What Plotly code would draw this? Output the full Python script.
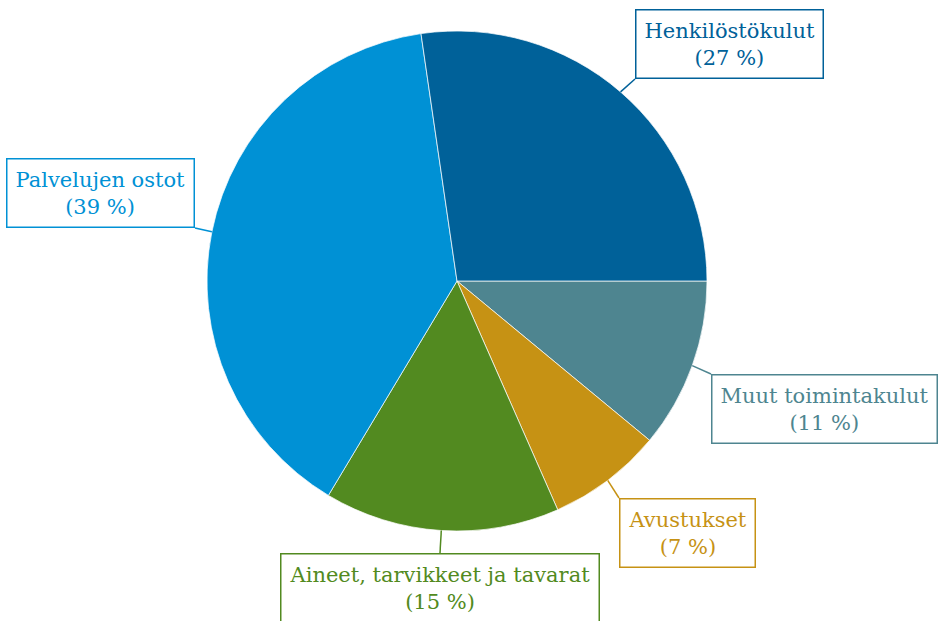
import math
import plotly.graph_objects as go

# Data (clockwise from 3 o'clock)
labels = ["Muut toimintakulut", "Avustukset", "Aineet, tarvikkeet ja tavarat",
          "Palvelujen ostot", "Henkilöstökulut"]
values = [11.0, 7.4, 15.2, 39.1, 27.3]
pct_labels = ["11 %", "7 %", "15 %", "39 %", "27 %"]
colors = ["#4e8590", "#c69214", "#528a20", "#0091d5", "#006199"]

W, H = 941, 621
CX, CY, R = 457, 281, 250  # pie centre and radius in pixels

fig = go.Figure(go.Pie(
    labels=labels, values=values, sort=False, direction="clockwise",
    rotation=90, textinfo="none", hoverinfo="label+percent",
    marker=dict(colors=colors, line=dict(color="rgba(255,255,255,0.7)", width=1)),
    domain=dict(x=[(CX - R) / W, (CX + R) / W], y=[1 - (CY + R) / H, 1 - (CY - R) / H]),
    showlegend=False,
))

# box anchor corners (pixels) and anchoring
box = {
    "Muut toimintakulut": (711, 374, "left", "top"),
    "Avustukset": (619, 498, "left", "top"),
    "Aineet, tarvikkeet ja tavarat": (440, 553, "center", "top"),
    "Palvelujen ostot": (195, 228, "right", "bottom"),
    "Henkilöstökulut": (635, 79, "left", "bottom"),
}

total = sum(values)
cum = 0.0
for lab, v, p, c in zip(labels, values, pct_labels, colors):
    mid = (cum + v / 2) / total * 360.0
    cum += v
    a = math.radians(mid)
    ex, ey = CX + R * math.cos(a), CY + R * math.sin(a)
    bx, by, xa, ya = box[lab]
    fig.add_shape(type="line", xref="paper", yref="paper",
                  x0=ex / W, y0=1 - ey / H, x1=bx / W, y1=1 - by / H,
                  line=dict(color=c, width=1.5))
    fig.add_annotation(xref="paper", yref="paper", x=bx / W, y=1 - by / H,
                       xanchor=xa, yanchor=ya, showarrow=False,
                       text=f"{lab}<br>({p})",
                       font=dict(family="DejaVu Serif", size=21, color=c),
                       align="center", bgcolor="white", bordercolor=c,
                       borderwidth=1.5, borderpad=8)

fig.update_layout(width=W, height=H, margin=dict(l=0, r=0, t=0, b=0),
                  paper_bgcolor="white", plot_bgcolor="white")
fig.write_html("out.html", config={"displayModeBar": False},
               post_script="document.body.style.margin='0';document.body.style.overflow='hidden';")
